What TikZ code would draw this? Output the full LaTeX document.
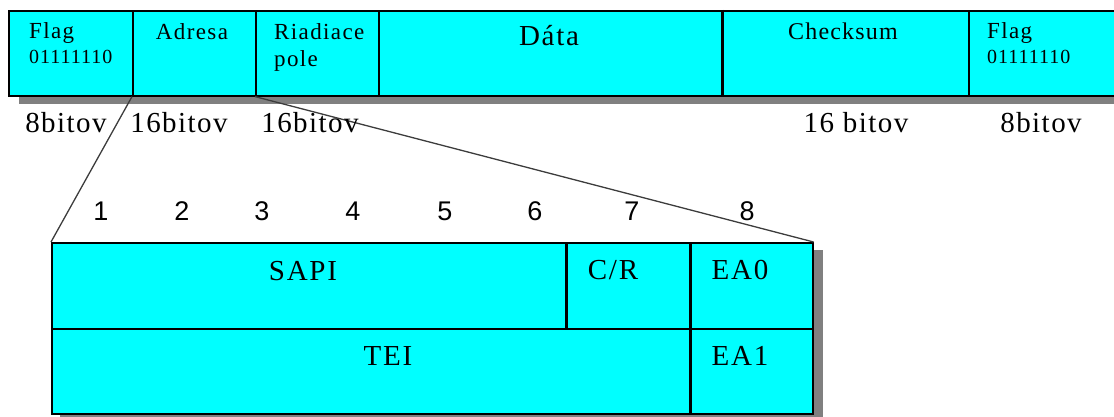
\documentclass[tikz,border=0pt]{standalone}
\usepackage{fontspec}
\setmainfont{Liberation Serif}
\newfontfamily\spcA[LetterSpace=6]{Liberation Serif}
\newfontfamily\spcB[LetterSpace=5]{Liberation Serif}
\newfontfamily\numf{Liberation Sans}
\definecolor{cellcyan}{RGB}{0,255,255}
\definecolor{shadowgray}{RGB}{128,128,128}
\definecolor{conngray}{RGB}{60,60,60}
\begin{document}
\begin{tikzpicture}[x=1pt,y=-1pt,
  cell/.style={draw=black, fill=cellcyan, line width=1.6pt, inner sep=0pt, anchor=north west},
  thickdiv/.style={draw=black, line width=3pt},
  conn/.style={draw=conngray, line width=1.3pt},
  txt/.style={inner sep=0pt, font=\spcA\fontsize{23}{26}\selectfont},
  small/.style={inner sep=0pt, font=\spcB\fontsize{20}{22}\selectfont},
  lab/.style={inner sep=0pt, anchor=base, font=\spcB\fontsize{29}{32}\selectfont},
  num/.style={inner sep=0pt, anchor=base, font=\numf\fontsize{27}{29}\selectfont},
  big/.style={inner sep=0pt, anchor=base, font=\spcA\fontsize{29}{32}\selectfont}]
\clip (0,0) rectangle (1114,417);
% shadows
\fill[shadowgray] (19,95) rectangle (1130,104);
\fill[shadowgray] (812,250) rectangle (823,425);
\fill[shadowgray] (60,413) rectangle (823,425);
% top frame cells
\node[cell, minimum width=124pt, minimum height=85pt] (flag1) at (8,10) {};
\node[cell, minimum width=123pt, minimum height=85pt] (adresa) at (132,10) {};
\node[cell, minimum width=123pt, minimum height=85pt] (riad) at (255,10) {};
\node[cell, minimum width=344pt, minimum height=85pt] (data) at (378,10) {};
\node[cell, minimum width=246pt, minimum height=85pt] (check) at (722,10) {};
\node[cell, minimum width=170pt, minimum height=85pt] (flag2) at (968,10) {};
\draw[thickdiv] (check.north west) -- (check.south west);
% lower table cells
\node[cell, minimum width=515pt, minimum height=86pt] (sapi) at (51,242) {};
\node[cell, minimum width=124pt, minimum height=86pt] (cr) at (566,242) {};
\node[cell, minimum width=122pt, minimum height=86pt] (ea0) at (690,242) {};
\node[cell, minimum width=639pt, minimum height=85pt] (tei) at (51,328) {};
\node[cell, minimum width=122pt, minimum height=85pt] (ea1) at (690,328) {};
\draw[thickdiv] (cr.north west) -- (cr.south west);
\draw[thickdiv] (ea0.north west) -- (ea1.south west);
% connectors
\draw[conn] (adresa.south west) -- (sapi.north west);
\draw[conn] (riad.south west) -- (ea0.north east);
% texts in top frame
\node[txt, anchor=base west] (tflag1) at (29,39) {Flag};
\node[small, anchor=base west] (tbits1) at (29,64) {01111110};
\node[txt, anchor=base] (tadr) at (192,40) {Adresa};
\node[txt, anchor=base west] (triad) at (274,40) {Riadiace};
\node[txt, anchor=base west] (tpole) at (274,67) {pole};
\node[big] (tdata) at (549,46) {Dáta};
\node[txt, anchor=base, font=\spcB\fontsize{24}{27}\selectfont] (tcheck) at (843,40) {Checksum};
\node[txt, anchor=base west] (tflag2) at (987,39) {Flag};
\node[small, anchor=base west] (tbits2) at (987,64) {01111110};
% size labels
\node[lab] (l1) at (66,133) {8bitov};
\node[lab] (l2) at (179,133) {16bitov};
\node[lab] (l3) at (310,133) {16bitov};
\node[lab] (l4) at (856,133) {16 bitov};
\node[lab] (l5) at (1041,133) {8bitov};
% bit numbers
\node[num] (n1) at (101,220) {1};
\node[num] (n2) at (182,220) {2};
\node[num] (n3) at (262,220) {3};
\node[num] (n4) at (353,220) {4};
\node[num] (n5) at (445,220) {5};
\node[num] (n6) at (535,220) {6};
\node[num] (n7) at (632,220) {7};
\node[num] (n8) at (747,220) {8};
% lower table texts
\node[big] (tsapi) at (303,280) {SAPI};
\node[big] (tcr) at (613,279) {C/R};
\node[big] (tea0) at (740,279) {EA0};
\node[big] (ttei) at (388,365) {TEI};
\node[big] (tea1) at (740,365) {EA1};
\end{tikzpicture}
\end{document}
